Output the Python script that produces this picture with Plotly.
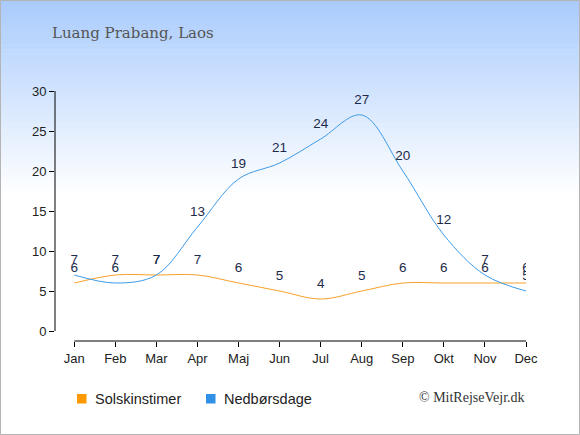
import plotly.graph_objects as go

months = ["Jan", "Feb", "Mar", "Apr", "Maj", "Jun", "Jul", "Aug", "Sep", "Okt", "Nov", "Dec"]
sun_hours = [6, 7, 7, 7, 6, 5, 4, 5, 6, 6, 6, 6]
rain_days = [7, 6, 7, 13, 19, 21, 24, 27, 20, 12, 7, 5]
y_ticks = [0, 5, 10, 15, 20, 25, 30]
series_names = ["Solskinstimer", "Nedbørsdage"]

W, H = 580, 435
L, R, T, B = 55, 54, 91, 94
pw, ph = W - L - R, H - T - B


def px(x):
    return (x - L) / pw


def py(y):
    return (H - B - y) / ph


fig = go.Figure()

orange = "#f9a12a"
blue = "#3d9be9"
label_col = "#1c2b4a"

idx = list(range(len(months)))

for vals, col in [(sun_hours, orange), (rain_days, blue)]:
    fig.add_trace(go.Scatter(x=idx, y=vals, mode="lines+markers+text", text=[str(v) for v in vals],
                             textposition="top center", textfont=dict(size=13.5, color=label_col),
                             marker=dict(size=11, color="rgba(0,0,0,0)"),
                             line=dict(color=col, width=1, shape="spline", smoothing=1),
                             showlegend=False, hoverinfo="skip"))

shapes = []
# background gradient
top = (170, 204, 253)
steps = 40
g_end = 197
for i in range(steps):
    y0 = g_end * i / steps
    y1 = g_end * (i + 1) / steps + 0.5
    t = i / (steps - 1)
    c = tuple(round(top[k] + (255 - top[k]) * t) for k in range(3))
    shapes.append(dict(type="rect", xref="paper", yref="paper", x0=px(0), x1=px(W),
                       y0=py(y1), y1=py(y0), fillcolor="rgb(%d,%d,%d)" % c,
                       line=dict(width=0), layer="below"))
# border
shapes.append(dict(type="rect", xref="paper", yref="paper", x0=px(0.5), x1=px(W - 0.5),
                   y0=py(H - 0.5), y1=py(0.5), line=dict(color="#b4b4b4", width=1),
                   fillcolor="rgba(0,0,0,0)", layer="above"))
# axis lines
shapes.append(dict(type="line", xref="x", yref="paper", x0=0, x1=11, y0=0, y1=0,
                   line=dict(color="black", width=1)))
shapes.append(dict(type="line", xref="paper", yref="y", x0=0, x1=0, y0=0, y1=30,
                   line=dict(color="black", width=1)))

# legend drawn by hand
annotations = []
for name, sq_col, sx in [(series_names[0], "#ff9900", 77), (series_names[1], "#2f90e6", 206)]:
    shapes.append(dict(type="rect", xref="paper", yref="paper", x0=px(sx), x1=px(sx + 9.5),
                       y0=py(403.5), y1=py(394), fillcolor=sq_col, line=dict(width=0)))
    annotations.append(dict(text=name, xref="paper", yref="paper", x=px(sx + 16), y=py(398.5),
                            xanchor="left", yanchor="middle", showarrow=False,
                            font=dict(size=14.5, color="#222")))

annotations.append(dict(text="Luang Prabang, Laos", xref="paper", yref="paper", x=px(50), y=py(33),
                        xanchor="left", yanchor="middle", showarrow=False,
                        font=dict(family="DejaVu Serif, Georgia, serif", size=15, color="#555")))
annotations.append(dict(text="© MitRejseVejr.dk", xref="paper", yref="paper", x=px(527), y=py(397),
                        xanchor="right", yanchor="middle", showarrow=False,
                        font=dict(family="Liberation Serif, Georgia, serif", size=14, color="#333")))

fig.update_layout(
    width=W, height=H,
    margin=dict(l=L, r=R, t=T, b=B),
    paper_bgcolor="white", plot_bgcolor="rgba(0,0,0,0)",
    font=dict(family="Liberation Sans, Arial, sans-serif", size=13, color="#222"),
    shapes=shapes,
    annotations=annotations,
    showlegend=False,
    xaxis=dict(range=[-0.47, 11], tickmode="array", tickvals=idx, ticktext=months,
               showgrid=False, zeroline=False, showline=False,
               ticks="outside", ticklen=5, tickcolor="black", fixedrange=True),
    yaxis=dict(range=[-1.25, 30], tickvals=y_ticks, showgrid=False, zeroline=False,
               showline=False, ticks="outside", ticklen=5, tickcolor="black", fixedrange=True),
)

fig.write_html("out.html", config={"displayModeBar": False},
               post_script="document.body.style.margin='0';")
